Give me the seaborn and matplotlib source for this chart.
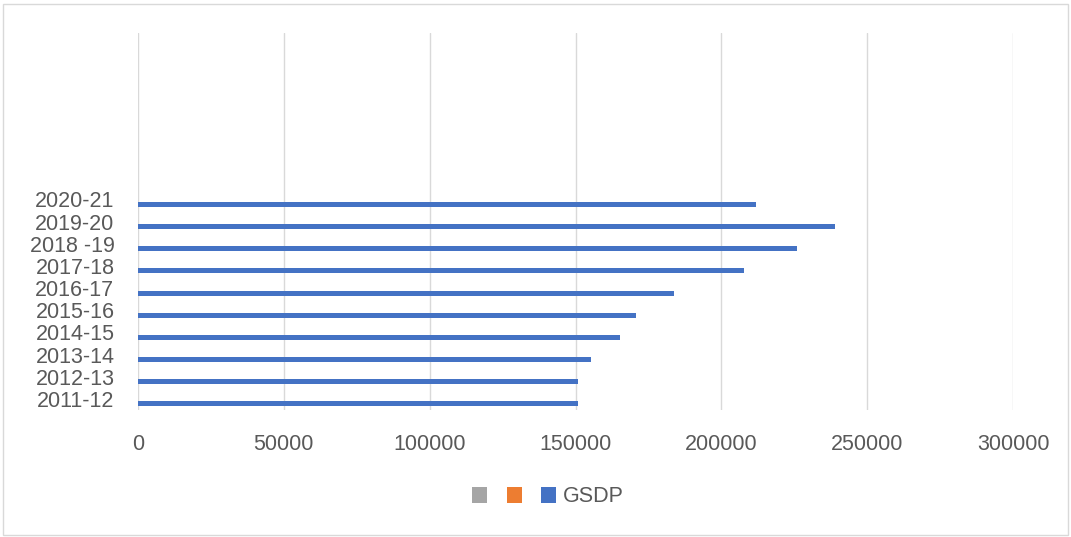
import numpy as np
import pandas as pd
import matplotlib
matplotlib.use("Agg")
import matplotlib.pyplot as plt
import seaborn as sns
from matplotlib.patches import Patch, Rectangle

# Gross State Domestic Product by year
years = ["2011-12", "2012-13", "2013-14", "2014-15", "2015-16",
         "2016-17", "2017-18", "2018 -19", "2019-20", "2020-21"]
gsdp = [150900, 150900, 155400, 165300, 170900,
        183600, 207600, 226100, 238900, 212000]

# Two further series in the table that hold no values
series_names = ["Series1", "Series2", "GSDP"]
legend_labels = ["", "", "GSDP"]
series_colors = ["#A5A5A5", "#ED7D31", "#4472C4"]
x_ticks = [0, 50000, 100000, 150000, 200000, 250000, 300000]

rows = []
for name in series_names:
    for y, v in zip(years, gsdp):
        rows.append({"year": y, "series": name,
                     "value": v if name == "GSDP" else np.nan})
df = pd.DataFrame(rows)

sns.set_theme(style="white")
plt.rcParams["font.family"] = ["Liberation Sans", "DejaVu Sans"]

fig = plt.figure(figsize=(10.71, 5.37), dpi=100)
ax = fig.add_axes([138 / 1071, 1 - 410 / 537, (1013 - 138) / 1071, (410 - 33) / 537])

sns.barplot(data=df, y="year", x="value", hue="series",
            order=years[::-1], hue_order=series_names,
            palette=series_colors, saturation=1, width=0.68, orient="h",
            linewidth=0, errorbar=None, legend=False, ax=ax)

# leave room for the empty rows above the latest year
ax.set_ylim(len(years) - 0.5, -7.5)
ax.set_xlim(0, 300000)
ax.set_xticks(x_ticks)
ax.set_xticklabels([str(t) for t in x_ticks])
ax.set_xlabel("")
ax.set_ylabel("")
ax.xaxis.grid(True, color="#D9D9D9", linewidth=1)
ax.yaxis.grid(False)
for s in ax.spines.values():
    s.set_visible(False)
ax.tick_params(axis="x", length=0, pad=17, labelsize=15.5, labelcolor="#595959")
ax.tick_params(axis="y", length=0, pad=17, labelsize=15.5, labelcolor="#595959")

handles = [Patch(facecolor=c, edgecolor="none") for c in series_colors]
fig.legend(handles, legend_labels, loc="center", bbox_to_anchor=(548 / 1071, 1 - 497 / 537),
           ncol=3, frameon=False, fontsize=15.5, labelcolor="#595959",
           handlelength=0.7, handleheight=0.7, handletextpad=0.3, columnspacing=0.6)

# chart border
fig.patches.append(Rectangle((3 / 1071, 2 / 537), 1 - 6 / 1071, 1 - 6 / 537,
                             transform=fig.transFigure, fill=False,
                             edgecolor="#D9D9D9", linewidth=1))

fig.savefig("out.png", dpi=100)
